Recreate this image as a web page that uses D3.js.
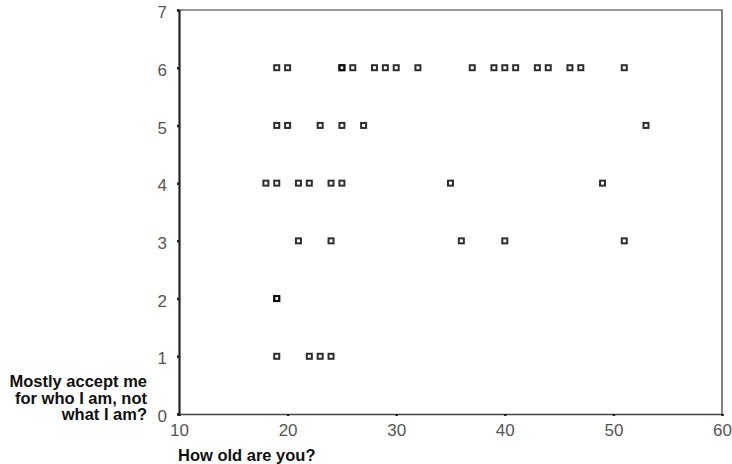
<!DOCTYPE html>
<html>
<head>
<meta charset="utf-8">
<script src="https://cdn.jsdelivr.net/npm/d3@7"></script>
<style>
  body { margin: 0; background: #fff; }
  text { font-family: "Liberation Sans", Arial, sans-serif; }
</style>
</head>
<body>
<div id="root"></div>
<script>
// ages (x) and "mostly accept me" scores (y), one entry per respondent
const ages = [
	19, 20, 25, 25, 26, 28, 29, 30, 32, 37, 39, 40, 41, 43, 44, 46, 47, 51,
	19, 20, 23, 25, 27, 53,
	18, 19, 21, 22, 24, 25, 35, 49,
	21, 24, 36, 40, 51,
	19, 19,
	19, 22, 23, 24
];
const scores = [
	6, 6, 6, 6, 6, 6, 6, 6, 6, 6, 6, 6, 6, 6, 6, 6, 6, 6,
	5, 5, 5, 5, 5, 5,
	4, 4, 4, 4, 4, 4, 4, 4,
	3, 3, 3, 3, 3,
	2, 2,
	1, 1, 1, 1
];
const xTicks = [10, 20, 30, 40, 50, 60];
const yTicks = [0, 1, 2, 3, 4, 5, 6, 7];
const yLabel = ["Mostly accept me", "for who I am, not", "what I am?"];
const xLabel = "How old are you?";

const width = 732;
const height = 464;
const plot = { left: 179, right: 722, top: 10, bottom: 414 };

const points = ages.map((a, i) => ({ age: a, score: scores[i] }));

const x = d3.scaleLinear().domain([10, 60]).range([plot.left, plot.right]);
const y = d3.scaleLinear().domain([0, 7]).range([plot.bottom, plot.top]);

const svg = d3.select("#root")
	.append("svg")
		.attr("width", width)
		.attr("height", height);

// frame: top and right thin lines
svg.append("path")
	.attr("d", `M ${plot.left} ${plot.top} H ${plot.right} V ${plot.bottom}`)
	.attr("fill", "none")
	.attr("stroke", "#333")
	.attr("stroke-width", 1.2);

// x axis
const xAxis = svg.append("g")
	.attr("transform", `translate(0, ${plot.bottom})`)
	.call(d3.axisBottom(x).tickValues(xTicks).tickSize(2).tickPadding(8).tickFormat(d3.format("d")));
xAxis.select(".domain").attr("stroke", "#444").attr("stroke-width", 1.4);
xAxis.selectAll(".tick line").attr("stroke", "#222").attr("stroke-width", 2.5);
xAxis.selectAll(".tick text")
	.style("font-size", "17px")
	.attr("fill", "#555");

// y axis
const yAxis = svg.append("g")
	.attr("transform", `translate(${plot.left}, 0)`)
	.call(d3.axisLeft(y).tickValues(yTicks).tickSize(2).tickPadding(10).tickFormat(d3.format("d")));
yAxis.select(".domain").attr("stroke", "#222").attr("stroke-width", 2.2);
yAxis.selectAll(".tick line").attr("stroke", "#222").attr("stroke-width", 2.5);
yAxis.selectAll(".tick text")
	.attr("dy", "0.45em")
	.style("font-size", "17px")
	.attr("fill", "#555");

// markers (overlapping respondents darken)
svg.append("g")
	.selectAll("rect")
	.data(points).enter()
	.append("rect")
		.attr("x", d => x(d.age) - 2.5)
		.attr("y", d => y(d.score) - 2.5)
		.attr("width", 5)
		.attr("height", 5)
		.attr("fill", "none")
		.attr("stroke", "#000")
		.attr("stroke-opacity", 0.82)
		.attr("stroke-width", 2);

// axis titles
svg.append("text")
	.attr("x", plot.left - 1)
	.attr("y", 461)
	.style("font-size", "16.5px")
	.style("font-weight", "bold")
	.attr("fill", "#111")
	.text(xLabel);

svg.append("g")
	.selectAll("text")
	.data(yLabel).enter()
	.append("text")
		.attr("x", 147)
		.attr("y", (d, i) => 387 + i * 16.5)
		.attr("text-anchor", "end")
		.style("font-size", "16.5px")
		.style("font-weight", "bold")
		.attr("fill", "#111")
		.text(d => d);
</script>
</body>
</html>
